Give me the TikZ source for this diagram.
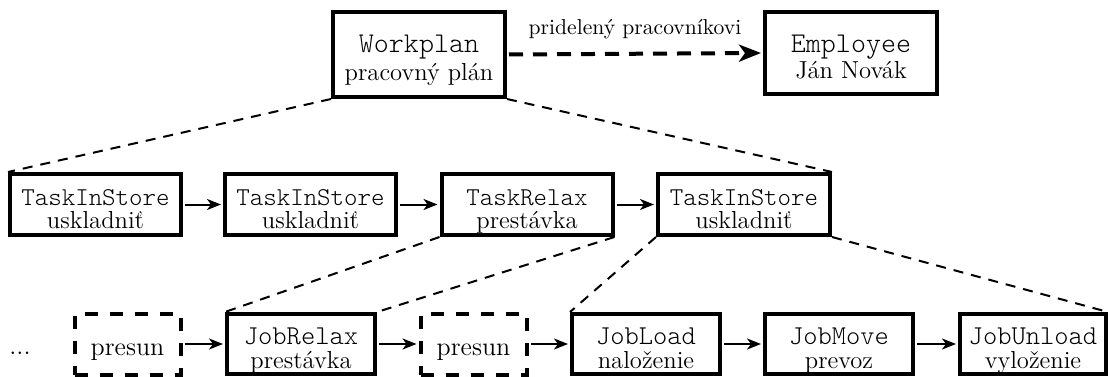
\documentclass[tikz,border=0pt]{standalone}
\usepackage{fontspec}
\setmonofont{Latin Modern Mono Light}
\usetikzlibrary{arrows.meta}

% Two-line card content: #1 mono size, #2 class name, #3 caption,
% #4 room above first baseline, #5 baseline distance, #6 room below caption
\newcommand\cardtext[6]{%
  \makebox[0pt]{\fontsize{#1}{#1}\ttfamily #2}%
  \makebox[0pt]{\raisebox{-#5}{#3}}%
  \rule[-\dimexpr#5+#6\relax]{0pt}{\dimexpr#4+#5+#6\relax}}

\tikzset{
  card/.style={draw, line width=2pt, inner sep=0pt, minimum width=#1,
    font=\fontsize{12.3}{13}\selectfont},
  ghost/.style={card=#1, dash pattern=on 6.5pt off 6pt,
    font=\fontsize{13}{14}\selectfont},
  flow/.style={-{Stealth[length=7pt,width=5.5pt,inset=2pt]}, line width=1pt,
    shorten >=1pt, shorten <=1pt},
  branch/.style={line width=1pt, dash pattern=on 5pt off 4pt},
  assign/.style={-{Stealth[length=11pt,width=8.5pt,inset=3pt]}, line width=2pt,
    dash pattern=on 7pt off 5pt, shorten >=1pt, shorten <=1pt}
}

\begin{document}
\begin{tikzpicture}[x=0.5pt, y=-0.5pt]
\useasboundingbox (0,0) rectangle (1110,376);

% plan and its owner
\node[card=86pt] (wp) at (419,54.5)
  {\cardtext{14.3pt}{Workplan}{pracovný plán}{20pt}{14pt}{8.5pt}};
\node[card=86pt] (emp) at (851,53)
  {\cardtext{14.3pt}{Employee}{Ján Novák}{20pt}{13pt}{8pt}};
\draw[assign] (wp.east) -- (emp.west)
  node[midway, anchor=base, yshift=9.5pt, font=\fontsize{10.8}{12}\selectfont]
  {pridelený pracovníkovi};

% tasks
\node[card=85.5pt] (t1) at (95.5,204.5)
  {\cardtext{12.85pt}{TaskInStore}{uskladniť}{15.5pt}{11.5pt}{3.5pt}};
\node[card=85.5pt] (t2) at (310.5,204.5)
  {\cardtext{12.85pt}{TaskInStore}{uskladniť}{15.5pt}{11.5pt}{3.5pt}};
\node[card=85.5pt] (t3) at (527,204.5)
  {\cardtext{12.85pt}{TaskRelax}{prestávka}{15.5pt}{11.5pt}{3.5pt}};
\node[card=86pt] (t4) at (744,204.5)
  {\cardtext{12.85pt}{TaskInStore}{uskladniť}{15.5pt}{11.5pt}{3.5pt}};

% jobs
\node[font=\fontsize{13}{14}\selectfont, anchor=base, inner sep=0pt] (dots) at (20,354) {...};
\node[ghost=53pt] (p1) at (127.5,344) {\rule[-9.5pt]{0pt}{30.5pt}presun};
\node[card=74pt] (jr) at (301,344)
  {\cardtext{13.6pt}{JobRelax}{prestávka}{15pt}{12pt}{3pt}};
\node[ghost=53pt] (p2) at (473.5,344) {\rule[-9.5pt]{0pt}{30.5pt}presun};
\node[card=74pt] (jl) at (646,344)
  {\cardtext{13.6pt}{JobLoad}{naloženie}{15pt}{12pt}{3pt}};
\node[card=74pt] (jm) at (839,344)
  {\cardtext{13.6pt}{JobMove}{prevoz}{15pt}{12pt}{3pt}};
\node[card=73pt] (ju) at (1033,344)
  {\cardtext{13.6pt}{JobUnload}{vyloženie}{15pt}{12pt}{3pt}};

% sequence arrows
\draw[flow] (t1) -- (t2);
\draw[flow] (t2) -- (t3);
\draw[flow] (t3) -- (t4);
\draw[flow] (p1) -- (jr);
\draw[flow] (jr) -- (p2);
\draw[flow] (p2) -- (jl);
\draw[flow] (jl) -- (jm);
\draw[flow] (jm) -- (ju);

% decomposition fans
\draw[branch] (wp.south west) -- (t1.north west);
\draw[branch] (wp.south east) -- (t4.north east);
\draw[branch] (t3.south west) -- (jr.north west);
\draw[branch] (t3.south east) -- (jr.north east);
\draw[branch] (t4.south west) -- (jl.north west);
\draw[branch] (t4.south east) -- (ju.north east);
\end{tikzpicture}
\end{document}
